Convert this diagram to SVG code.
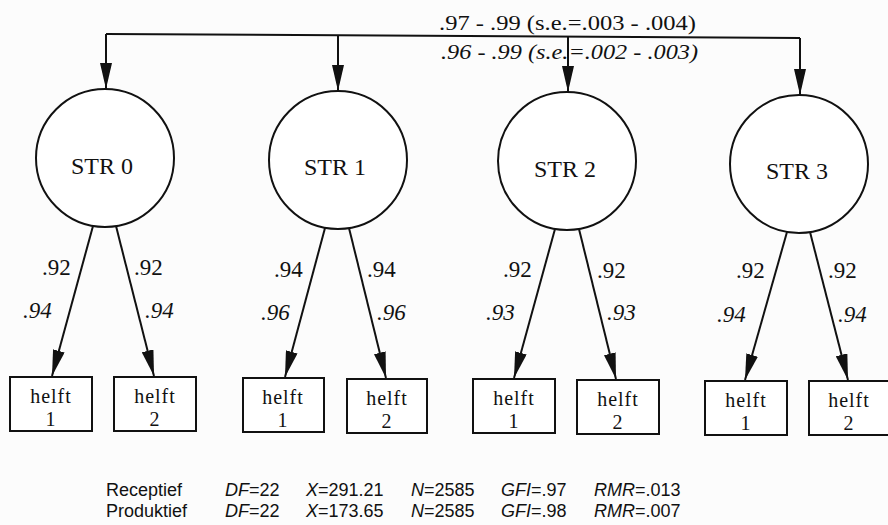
<svg xmlns="http://www.w3.org/2000/svg" width="888" height="525" viewBox="0 0 888 525">
<style>
.bg{fill:#fcfcfc}
.circ{fill:#ffffff;stroke:#111;stroke-width:2}
.box{fill:#ffffff;stroke:#111;stroke-width:2}
.edge{fill:none;stroke:#111;stroke-width:2}
.t{font-family:"Liberation Serif","Times New Roman",serif;fill:#111}
.lat{font-size:24px;text-anchor:middle}
.obs{font-size:20px;text-anchor:middle;letter-spacing:1px}
.lab{font-size:23px}
.it{font-style:italic}
.top{font-size:21px}
.s{font-family:"Liberation Sans",Arial,sans-serif;font-size:18px;fill:#111}
</style>
<defs>
<marker id="ah" viewBox="0 0 26 12" refX="26" refY="6" markerWidth="26" markerHeight="12" markerUnits="userSpaceOnUse" orient="auto">
<path d="M0,0 L26,6 L0,12 z" fill="#111"/>
</marker>
</defs>
<rect class="bg" x="0" y="0" width="888" height="525"/>
<g id="connectors">
<path class="edge" d="M106,34 L800,38"/>
<path class="edge" d="M106,34 L106,89" marker-end="url(#ah)"/>
<path class="edge" d="M338,35 L338,91" marker-end="url(#ah)"/>
<path class="edge" d="M568,37 L568,92" marker-end="url(#ah)"/>
<path class="edge" d="M800,38 L800,95" marker-end="url(#ah)"/>
<path class="edge" d="M93,226 L52,376" marker-end="url(#ah)"/>
<path class="edge" d="M116,226 L154,376" marker-end="url(#ah)"/>
<path class="edge" d="M325,228 L285,377" marker-end="url(#ah)"/>
<path class="edge" d="M349,228 L386,378" marker-end="url(#ah)"/>
<path class="edge" d="M555,229 L514,378" marker-end="url(#ah)"/>
<path class="edge" d="M579,229 L616,379" marker-end="url(#ah)"/>
<path class="edge" d="M787,232 L745,380" marker-end="url(#ah)"/>
<path class="edge" d="M810,232 L848,380" marker-end="url(#ah)"/>
<text class="t top" x="439" y="30" textLength="257" lengthAdjust="spacingAndGlyphs">.97 - .99 (s.e.=.003 - .004)</text>
<text class="t top it" x="441" y="59" textLength="257" lengthAdjust="spacingAndGlyphs">.96 - .99 (s.e.=.002 - .003)</text>
<text class="t lab" x="42" y="275">.92</text>
<text class="t lab it" x="23" y="318">.94</text>
<text class="t lab" x="134" y="275">.92</text>
<text class="t lab it" x="145" y="318">.94</text>
<text class="t lab" x="274" y="277">.94</text>
<text class="t lab it" x="261" y="320">.96</text>
<text class="t lab" x="367" y="277">.94</text>
<text class="t lab it" x="377" y="320">.96</text>
<text class="t lab" x="503" y="277">.92</text>
<text class="t lab it" x="486" y="320">.93</text>
<text class="t lab" x="597" y="278">.92</text>
<text class="t lab it" x="607" y="320">.93</text>
<text class="t lab" x="736" y="278">.92</text>
<text class="t lab it" x="717" y="322">.94</text>
<text class="t lab" x="828" y="278">.92</text>
<text class="t lab it" x="838" y="322">.94</text>
</g>
<g id="str0"><circle class="circ" cx="105" cy="158" r="69"/><text class="t lat" x="102" y="174">STR 0</text></g>
<g id="str1"><circle class="circ" cx="338" cy="160" r="69"/><text class="t lat" x="335" y="175">STR 1</text></g>
<g id="str2"><circle class="circ" cx="567" cy="161" r="69"/><text class="t lat" x="565" y="177">STR 2</text></g>
<g id="str3"><circle class="circ" cx="799" cy="164" r="69"/><text class="t lat" x="797" y="179">STR 3</text></g>
<g id="str0-h1"><rect class="box" x="10" y="377" width="82" height="54"/><text class="t obs" x="51" y="403">helft</text><text class="t obs" x="51" y="426">1</text></g>
<g id="str0-h2"><rect class="box" x="114" y="377" width="82" height="54"/><text class="t obs" x="155" y="403">helft</text><text class="t obs" x="155" y="426">2</text></g>
<g id="str1-h1"><rect class="box" x="243" y="378" width="81" height="54"/><text class="t obs" x="283" y="404">helft</text><text class="t obs" x="283" y="427">1</text></g>
<g id="str1-h2"><rect class="box" x="347" y="379" width="80" height="54"/><text class="t obs" x="387" y="405">helft</text><text class="t obs" x="387" y="428">2</text></g>
<g id="str2-h1"><rect class="box" x="473" y="379" width="82" height="54"/><text class="t obs" x="514" y="405">helft</text><text class="t obs" x="514" y="428">1</text></g>
<g id="str2-h2"><rect class="box" x="577" y="380" width="82" height="54"/><text class="t obs" x="618" y="406">helft</text><text class="t obs" x="618" y="429">2</text></g>
<g id="str3-h1"><rect class="box" x="705" y="381" width="82" height="54"/><text class="t obs" x="746" y="407">helft</text><text class="t obs" x="746" y="430">1</text></g>
<g id="str3-h2"><rect class="box" x="809" y="381" width="82" height="54"/><text class="t obs" x="849" y="407">helft</text><text class="t obs" x="849" y="430">2</text></g>
<g id="stats">
<text class="s" x="106" y="496">Receptief</text>
<text class="s" x="225" y="496"><tspan font-style="italic">DF</tspan>=22</text>
<text class="s" x="306" y="496"><tspan font-style="italic">X</tspan>=291.21</text>
<text class="s" x="411" y="496"><tspan font-style="italic">N</tspan>=2585</text>
<text class="s" x="501" y="496"><tspan font-style="italic">GFI</tspan>=.97</text>
<text class="s" x="594" y="496"><tspan font-style="italic">RMR</tspan>=.013</text>
<text class="s" x="106" y="517">Produktief</text>
<text class="s" x="225" y="517"><tspan font-style="italic">DF</tspan>=22</text>
<text class="s" x="306" y="517"><tspan font-style="italic">X</tspan>=173.65</text>
<text class="s" x="411" y="517"><tspan font-style="italic">N</tspan>=2585</text>
<text class="s" x="501" y="517"><tspan font-style="italic">GFI</tspan>=.98</text>
<text class="s" x="594" y="517"><tspan font-style="italic">RMR</tspan>=.007</text>
</g>
</svg>
